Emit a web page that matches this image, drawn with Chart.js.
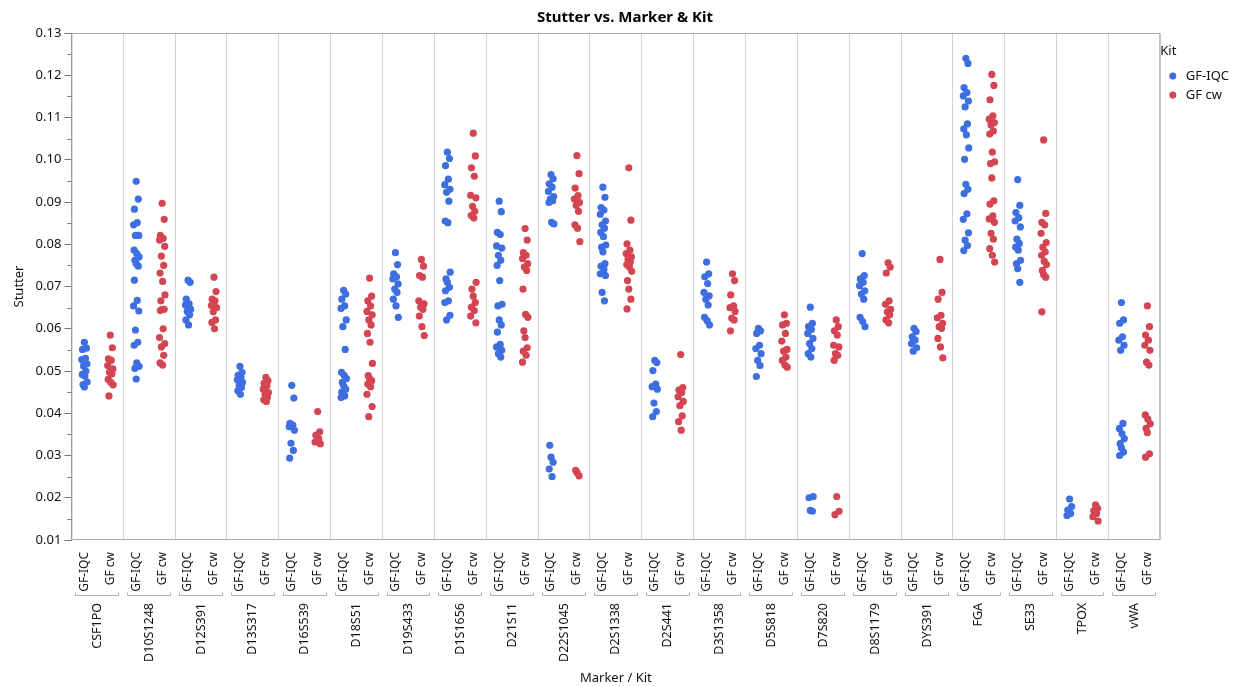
<!DOCTYPE html>
<html>
<head>
<meta charset="utf-8">
<script src="https://cdn.jsdelivr.net/npm/chart.js@4.4.1/dist/chart.umd.min.js"></script>
<style>
  body { margin: 0; background: #fff; }
  #wrap { width: 1244px; height: 686px; }
</style>
</head>
<body>
<div id="wrap"><canvas id="stutterChart" width="1244" height="686"></canvas></div>
<script>
const markers = ['CSF1PO', 'D10S1248', 'D12S391', 'D13S317', 'D16S539', 'D18S51', 'D19S433',
  'D1S1656', 'D21S11', 'D22S1045', 'D2S1338', 'D2S441', 'D3S1358', 'D5S818', 'D7S820',
  'D8S1179', 'DYS391', 'FGA', 'SE33', 'TPOX', 'vWA'];
const kits = ['GF-IQC', 'GF cw'];

// stutter ratios per marker, GF-IQC kit
const iqcStutter = [
  [0.0568, 0.0554, 0.0551, 0.0530, 0.0527, 0.0517, 0.0512, 0.0500, 0.0492, 0.0488, 0.0474, 0.0468, 0.0462],
  [0.0949, 0.0907, 0.0883, 0.0851, 0.0846, 0.0821, 0.0821, 0.0821, 0.0786, 0.0778, 0.0770, 0.0762, 0.0754, 0.0748,
   0.0715, 0.0667, 0.0654, 0.0642, 0.0597, 0.0568, 0.0561, 0.0519, 0.0511, 0.0506, 0.0481],
  [0.0715, 0.0710, 0.0670, 0.0659, 0.0656, 0.0646, 0.0641, 0.0633, 0.0621, 0.0609],
  [0.0511, 0.0497, 0.0490, 0.0485, 0.0479, 0.0473, 0.0466, 0.0461, 0.0453, 0.0445],
  [0.0466, 0.0436, 0.0376, 0.0372, 0.0368, 0.0360, 0.0329, 0.0312, 0.0294],
  [0.0691, 0.0682, 0.0670, 0.0654, 0.0648, 0.0621, 0.0605, 0.0551, 0.0497, 0.0490, 0.0482, 0.0473, 0.0465,
   0.0457, 0.0450, 0.0441, 0.0437],
  [0.0780, 0.0752, 0.0730, 0.0723, 0.0718, 0.0706, 0.0694, 0.0686, 0.0670, 0.0654, 0.0627],
  [0.1018, 0.1003, 0.0986, 0.0954, 0.0941, 0.0930, 0.0923, 0.0902, 0.0855, 0.0851, 0.0734, 0.0718, 0.0710,
   0.0698, 0.0690, 0.0666, 0.0662, 0.0632, 0.0621],
  [0.0902, 0.0877, 0.0828, 0.0823, 0.0796, 0.0791, 0.0774, 0.0762, 0.0750, 0.0714, 0.0658, 0.0654, 0.0621,
   0.0609, 0.0592, 0.0563, 0.0557, 0.0549, 0.0541, 0.0533],
  [0.0965, 0.0955, 0.0943, 0.0935, 0.0925, 0.0913, 0.0907, 0.0903, 0.0899, 0.0852, 0.0848, 0.0324, 0.0296,
   0.0284, 0.0268, 0.0250],
  [0.0935, 0.0911, 0.0887, 0.0881, 0.0871, 0.0855, 0.0846, 0.0838, 0.0828, 0.0818, 0.0798, 0.0793, 0.0782,
   0.0754, 0.0748, 0.0740, 0.0730, 0.0726, 0.0686, 0.0666],
  [0.0525, 0.0520, 0.0501, 0.0469, 0.0463, 0.0457, 0.0424, 0.0404, 0.0392],
  [0.0758, 0.0730, 0.0723, 0.0707, 0.0686, 0.0678, 0.0670, 0.0656, 0.0627, 0.0619, 0.0609],
  [0.0601, 0.0595, 0.0589, 0.0561, 0.0553, 0.0541, 0.0525, 0.0513, 0.0487],
  [0.0651, 0.0613, 0.0605, 0.0598, 0.0589, 0.0577, 0.0565, 0.0553, 0.0541, 0.0533, 0.0203, 0.0200, 0.0170, 0.0168],
  [0.0778, 0.0726, 0.0718, 0.0710, 0.0702, 0.0690, 0.0682, 0.0670, 0.0627, 0.0617, 0.0605],
  [0.0601, 0.0593, 0.0581, 0.0573, 0.0565, 0.0555, 0.0547],
  [0.1240, 0.1228, 0.1171, 0.1159, 0.1151, 0.1139, 0.1125, 0.1085, 0.1073, 0.1059, 0.1028, 0.1001, 0.0942,
   0.0930, 0.0920, 0.0872, 0.0859, 0.0827, 0.0810, 0.0797, 0.0785],
  [0.0953, 0.0892, 0.0875, 0.0863, 0.0855, 0.0841, 0.0812, 0.0802, 0.0793, 0.0786, 0.0762, 0.0754, 0.0742, 0.0710],
  [0.0197, 0.0179, 0.0171, 0.0163, 0.0158],
  [0.0662, 0.0621, 0.0613, 0.0581, 0.0573, 0.0561, 0.0549, 0.0376, 0.0364, 0.0352, 0.0340, 0.0328, 0.0318,
   0.0308, 0.0300]
];

// stutter ratios per marker, GF cw kit
const cwStutter = [
  [0.0585, 0.0555, 0.0529, 0.0525, 0.0513, 0.0505, 0.0497, 0.0493, 0.0480, 0.0473, 0.0467, 0.0441],
  [0.0897, 0.0859, 0.0821, 0.0814, 0.0810, 0.0795, 0.0772, 0.0750, 0.0732, 0.0712, 0.0680, 0.0666, 0.0646,
   0.0646, 0.0643, 0.0600, 0.0579, 0.0565, 0.0557, 0.0537, 0.0519, 0.0514],
  [0.0722, 0.0688, 0.0670, 0.0666, 0.0655, 0.0650, 0.0640, 0.0621, 0.0615, 0.0600],
  [0.0485, 0.0477, 0.0471, 0.0465, 0.0457, 0.0449, 0.0445, 0.0437, 0.0432, 0.0428],
  [0.0404, 0.0356, 0.0348, 0.0340, 0.0332, 0.0328],
  [0.0720, 0.0677, 0.0666, 0.0654, 0.0641, 0.0633, 0.0621, 0.0609, 0.0589, 0.0568, 0.0518, 0.0489, 0.0482,
   0.0477, 0.0469, 0.0463, 0.0445, 0.0416, 0.0392],
  [0.0764, 0.0748, 0.0726, 0.0722, 0.0666, 0.0659, 0.0651, 0.0646, 0.0630, 0.0605, 0.0584],
  [0.1063, 0.1009, 0.0981, 0.0961, 0.0916, 0.0910, 0.0890, 0.0878, 0.0868, 0.0862, 0.0710, 0.0694, 0.0677,
   0.0662, 0.0651, 0.0643, 0.0630, 0.0614],
  [0.0837, 0.0810, 0.0780, 0.0774, 0.0766, 0.0754, 0.0746, 0.0738, 0.0694, 0.0634, 0.0627, 0.0595, 0.0579,
   0.0555, 0.0547, 0.0537, 0.0521],
  [0.1010, 0.0967, 0.0933, 0.0915, 0.0907, 0.0899, 0.0892, 0.0878, 0.0846, 0.0838, 0.0806, 0.0265, 0.0260, 0.0252],
  [0.0981, 0.0857, 0.0801, 0.0786, 0.0778, 0.0770, 0.0764, 0.0758, 0.0752, 0.0746, 0.0736, 0.0714, 0.0694,
   0.0670, 0.0647],
  [0.0539, 0.0461, 0.0455, 0.0449, 0.0439, 0.0428, 0.0418, 0.0394, 0.0380, 0.0360],
  [0.0730, 0.0714, 0.0680, 0.0654, 0.0650, 0.0641, 0.0625, 0.0621, 0.0595],
  [0.0633, 0.0613, 0.0609, 0.0589, 0.0571, 0.0551, 0.0547, 0.0533, 0.0525, 0.0514, 0.0509],
  [0.0621, 0.0605, 0.0595, 0.0585, 0.0561, 0.0557, 0.0541, 0.0537, 0.0525, 0.0203, 0.0168, 0.0160],
  [0.0756, 0.0746, 0.0732, 0.0666, 0.0658, 0.0646, 0.0640, 0.0633, 0.0621, 0.0614],
  [0.0764, 0.0686, 0.0670, 0.0632, 0.0626, 0.0613, 0.0605, 0.0601, 0.0577, 0.0557, 0.0531],
  [0.1202, 0.1176, 0.1142, 0.1104, 0.1096, 0.1088, 0.1082, 0.1068, 0.1061, 0.1018, 0.0995, 0.0991, 0.0957,
   0.0903, 0.0895, 0.0867, 0.0860, 0.0852, 0.0826, 0.0812, 0.0790, 0.0774, 0.0758],
  [0.1047, 0.0873, 0.0852, 0.0846, 0.0826, 0.0804, 0.0793, 0.0782, 0.0774, 0.0760, 0.0752, 0.0738, 0.0728,
   0.0722, 0.0640],
  [0.0183, 0.0175, 0.0169, 0.0163, 0.0155, 0.0145],
  [0.0654, 0.0605, 0.0585, 0.0573, 0.0561, 0.0549, 0.0521, 0.0514, 0.0396, 0.0386, 0.0375, 0.0364, 0.0354,
   0.0304, 0.0296]
];

const yMin = 0.01, yMax = 0.13, yStep = 0.01;

// small fixed horizontal spread so stacked points stay visible
const jitter = [0, 0.08, -0.07, 0.04, -0.1, 0.1, -0.03, 0.06, -0.08, 0.02, 0.11, -0.05];

const FONT = "'Noto Sans', 'Open Sans', sans-serif";
const blue = '#3d6fe0';
const red = '#d44552';

function toPoints(series, kitIndex) {
  const pts = [];
  series.forEach((vals, m) => {
    vals.forEach((v, j) => {
      pts.push({ x: m * 2 + kitIndex + jitter[j % jitter.length], y: v });
    });
  });
  return pts;
}

// frame, minor y ticks and the marker brackets under the kit labels
const extras = {
  id: 'extras',
  afterDraw(chart) {
    const { ctx, chartArea: a, scales: { x, y } } = chart;
    ctx.save();
    ctx.strokeStyle = '#a8a8a8';
    ctx.lineWidth = 1;
    ctx.strokeRect(a.left + 0.5, a.top + 0.5, a.width - 1, a.height - 1);

    ctx.strokeStyle = '#777';
    ctx.beginPath();
    for (let v = yMin + yStep / 2; v < yMax; v += yStep) {
      const py = Math.round(y.getPixelForValue(v)) + 0.5;
      ctx.moveTo(a.left - 4, py);
      ctx.lineTo(a.left, py);
    }
    ctx.stroke();

    ctx.strokeStyle = '#b0b0b0';
    const by = Math.round(x.bottom) + 3.5;
    ctx.beginPath();
    markers.forEach((m, i) => {
      const l = Math.round(x.getPixelForValue(i * 2 - 0.5)) + 4.5;
      const r = Math.round(x.getPixelForValue(i * 2 + 1.5)) - 4.5;
      ctx.moveTo(l, by - 3);
      ctx.lineTo(l, by);
      ctx.lineTo(r, by);
      ctx.lineTo(r, by - 3);
    });
    ctx.stroke();
    ctx.restore();
  }
};

new Chart(document.getElementById('stutterChart'), {
  type: 'scatter',
  data: {
    datasets: [
      { label: kits[0], data: toPoints(iqcStutter, 0), backgroundColor: blue, borderWidth: 0, pointRadius: 3.6 },
      { label: kits[1], data: toPoints(cwStutter, 1), backgroundColor: red, borderWidth: 0, pointRadius: 3.6 }
    ]
  },
  options: {
    responsive: false,
    devicePixelRatio: 1,
    animation: false,
    events: [],
    layout: { padding: { left: 11, right: 5, top: 0, bottom: 0 } },
    plugins: {
      title: {
        display: true,
        text: 'Stutter vs. Marker & Kit',
        color: '#000',
        font: { family: FONT, size: 15, weight: 'bold' },
        padding: { top: 9, bottom: 6 }
      },
      legend: {
        position: 'right',
        align: 'start',
        title: { display: true, text: 'Kit', position: 'start', color: '#111', font: { family: FONT, size: 13 }, padding: { top: 45, bottom: 3 } },
        labels: {
          usePointStyle: true,
          pointStyle: 'circle',
          boxWidth: 13,
          boxHeight: 5,
          padding: 6,
          color: '#111',
          font: { family: FONT, size: 13 }
        }
      },
      tooltip: { enabled: false }
    },
    scales: {
      x: {
        type: 'linear',
        position: 'bottom',
        weight: 0,
        min: -0.5,
        max: markers.length * 2 - 0.5,
        afterBuildTicks: (scale) => {
          scale.ticks = markers.flatMap((m, i) => [{ value: i * 2 }, { value: i * 2 + 1 }]);
        },
        afterFit: (scale) => { scale.height = 52; },
        grid: { display: false },
        border: { display: false },
        ticks: {
          autoSkip: false,
          minRotation: 90,
          maxRotation: 90,
          padding: 4,
          color: '#111',
          font: { family: FONT, size: 12 },
          callback: (v) => kits[v % 2]
        }
      },
      x2: {
        type: 'category',
        position: 'bottom',
        weight: 1,
        labels: markers,
        offset: true,
        afterFit: (scale) => { scale.height = 94; },
        grid: { offset: true, color: '#d4d4d4', drawTicks: false },
        border: { display: false },
        ticks: {
          autoSkip: false,
          minRotation: 90,
          maxRotation: 90,
          padding: 11,
          color: '#111',
          font: { family: FONT, size: 12.5 }
        },
        title: { display: true, text: 'Marker / Kit', color: '#111', font: { family: FONT, size: 13 }, padding: { top: 0, bottom: 0 } }
      },
      y: {
        min: yMin,
        max: yMax,
        grid: { drawOnChartArea: false, tickLength: 7, color: '#777' },
        border: { display: true, color: '#888' },
        ticks: {
          stepSize: yStep,
          padding: 3,
          color: '#111',
          font: { family: FONT, size: 13 },
          callback: (v) => v.toFixed(2)
        },
        title: { display: true, text: 'Stutter', color: '#111', font: { family: FONT, size: 13 }, padding: { top: 0, bottom: 6 } }
      }
    }
  },
  plugins: [extras]
});
</script>
</body>
</html>
